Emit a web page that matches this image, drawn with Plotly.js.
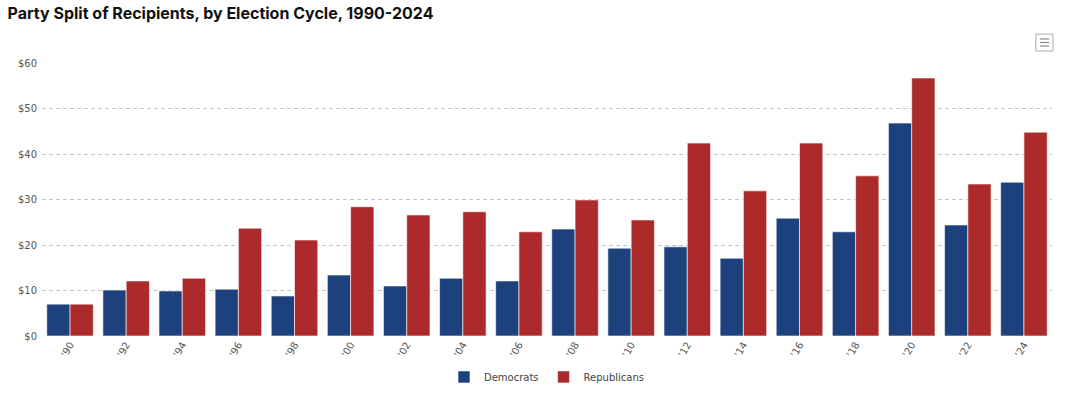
<!DOCTYPE html>
<html><head><meta charset="utf-8">
<script src="https://cdn.plot.ly/plotly-3.0.1.min.js"></script>
<style>html,body{margin:0;padding:0;background:#fff}#chart{width:1079px;height:418px}</style>
</head><body><div id="chart"></div>
<script>
const cycles = ["'90","'92","'94","'96","'98","'00","'02","'04","'06","'08","'10","'12","'14","'16","'18","'20","'22","'24"];
const democrats = [7.0,10.1,9.9,10.3,8.8,13.4,11.0,12.7,12.1,23.5,19.3,19.6,17.1,25.9,22.9,46.8,24.4,33.8];
const republicans = [7.0,12.1,12.7,23.7,21.1,28.4,26.6,27.3,22.9,29.9,25.5,42.4,31.9,42.4,35.2,56.7,33.4,44.8];
const yTickVals = [0,10,20,30,40,50,60];
const yTickText = ["$0","$10","$20","$30","$40","$50","$60"];

const traces = [
  {type:'bar', name:'Democrats', x:cycles, y:democrats,
   marker:{color:'#1c417d', line:{color:'#ffffff', width:0.6}},
   hovertemplate:'%{x}<br>Democrats: $%{y}<extra></extra>'},
  {type:'bar', name:'Republicans', x:cycles, y:republicans,
   marker:{color:'#ad2a2a', line:{color:'#ffffff', width:0.6}},
   hovertemplate:'%{x}<br>Republicans: $%{y}<extra></extra>'}
];
const layout = {
  width:1079, height:418,
  margin:{l:42, r:27, t:63, b:82},
  paper_bgcolor:'#fff', plot_bgcolor:'#fff',
  title:{text:'<b>Party Split of Recipients, by Election Cycle, 1990-2024</b>', x:0.007, xanchor:'left', y:0.967, yanchor:'middle',
    font:{family:'Inter, "Liberation Sans", sans-serif', size:16, color:'#111'}},
  barmode:'group', bargap:0.17, bargroupgap:0,
  font:{family:'"DejaVu Sans", Verdana, sans-serif', size:10, color:'#555'},
  xaxis:{type:'category', tickangle:-60, showgrid:false, showline:false, zeroline:false, automargin:false,
    tickfont:{size:10, color:'#555'}, ticks:'', ticklen:0},
  yaxis:{range:[0,60], tickvals:yTickVals, ticktext:yTickText, showgrid:true, gridcolor:'#c4c4c4', griddash:'4px,3px', gridwidth:1,
    zeroline:false, showline:false, automargin:false, tickfont:{size:10, color:'#555'}, ticklabelstandoff:4},
  showlegend:true,
  legend:{orientation:'h', x:0.5, xanchor:'center', y:-0.15, yanchor:'middle', font:{size:10, color:'#444'}},
  shapes:[
    {type:'rect', xref:'paper', yref:'paper', x0:0.984, x1:1.001, y0:1.044, y1:1.106, line:{color:'#aaa', width:1}, fillcolor:'#fff'}
  ]
};
// menu icon lines
[1.062,1.075,1.088].forEach(function(v){
  layout.shapes.push({type:'line', xref:'paper', yref:'paper', x0:0.988, x1:0.997, y0:v, y1:v, line:{color:'#888', width:1.2}});
});
Plotly.newPlot('chart', traces, layout, {displayModeBar:false});
</script></body></html>
